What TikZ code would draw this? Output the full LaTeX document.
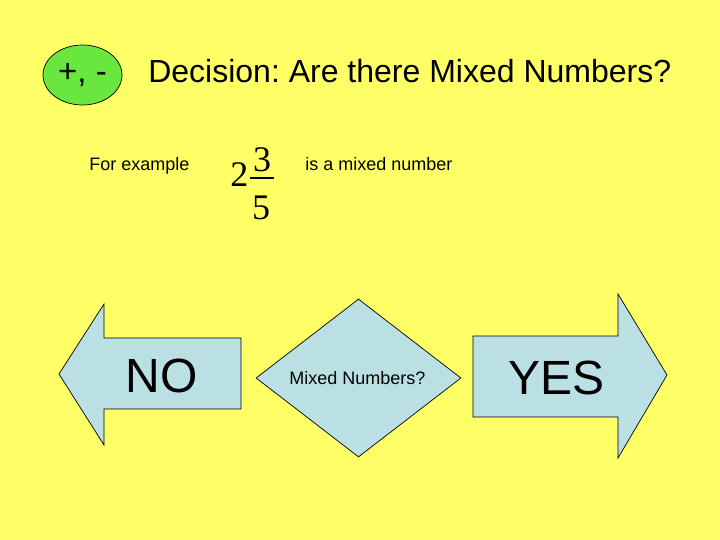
\documentclass[tikz,border=0pt]{standalone}
\usepackage{fontspec}
\setmainfont{Liberation Sans}
\newfontfamily\timesfont{Liberation Serif}
\usetikzlibrary{shapes.geometric}
\definecolor{slideyellow}{RGB}{255,255,102}
\definecolor{boxblue}{RGB}{187,224,227}
\definecolor{badgegreen}{RGB}{104,232,62}
\newcommand{\sz}[1]{\fontsize{#1}{#1}\selectfont}
\frenchspacing

\begin{document}
\begin{tikzpicture}[x=1pt,y=-1pt,line width=0.7pt,inner sep=0pt]
          \fill [slideyellow] (0,0) rectangle (720,540);
          \node (badge) [ellipse,draw,fill=badgegreen,minimum width=79,
            minimum height=60] at (82.5,75) {\sz{33}+, -};
          \node (title) [anchor=base west] at (148,83)
            {\sz{32}Decision: Are there Mixed Numbers?};
          \node (forex) [anchor=base west] at (89,171) {\sz{18}For example};
          \node (ismixed) [anchor=base west] at (305,171) {\sz{18}is a mixed number};
          % the mixed number 2 3/5
          \node (whole) [anchor=base west] at (230,187) {\timesfont\sz{36}2};
          \node (numer) [anchor=base] at (262,172) {\timesfont\sz{36}3};
          \node (denom) [anchor=base] at (261,220) {\timesfont\sz{36}5};
          \draw [line width=1.3pt] (250,178) -- (274,178);
          % the three shapes
          \draw [fill=boxblue] (59,374) -- (104,304) -- (104,338) -- (241,338)
            -- (241,409) -- (104,409) -- (104,445) -- cycle;
          \node (choice) [diamond,draw,fill=boxblue,minimum width=205,
            minimum height=158] at (358.5,378) {};
          \draw [fill=boxblue] (667,375) -- (618,294) -- (618,336) -- (473,336)
            -- (473,417) -- (618,417) -- (618,458) -- cycle;
          \node (no) [anchor=base] at (161.5,392) {\sz{48}NO};
          \node (ask) [anchor=base] at (357.5,384) {\sz{18}Mixed Numbers?};
          \node (yes) [anchor=base] at (556.5,394) {\sz{48}YES};
        \end{tikzpicture}
\end{document}
